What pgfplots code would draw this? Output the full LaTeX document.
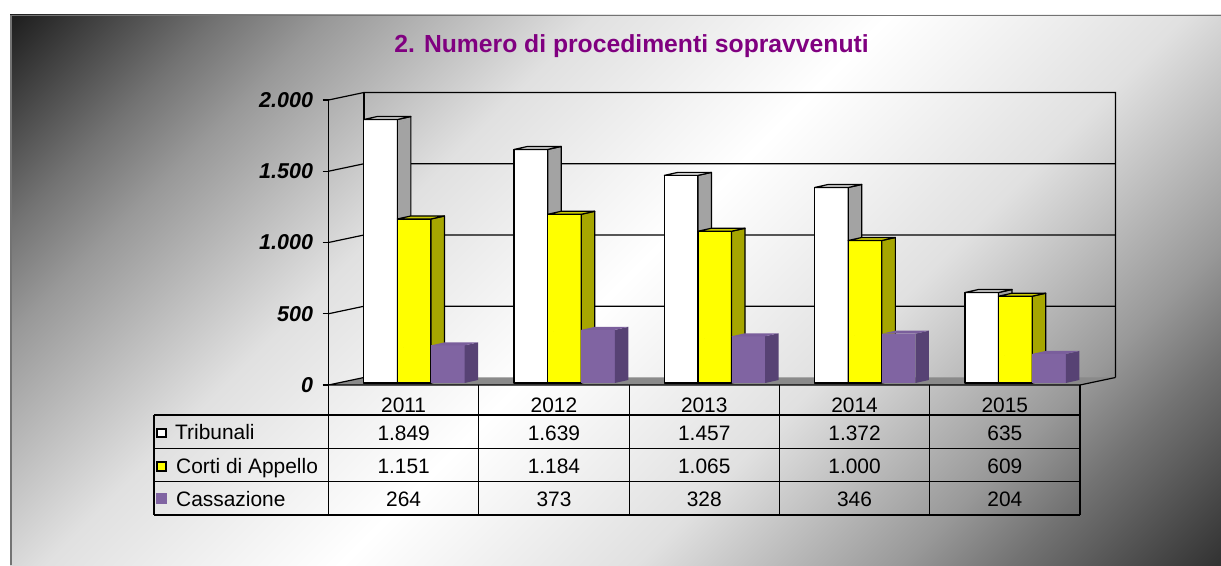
\documentclass[border=0pt]{standalone}
\usepackage{fontspec}
\setmainfont{Liberation Sans}
\usepackage{pgfplots}
\pgfplotsset{compat=1.18}
\usepackage{pgfplotstable}

\definecolor{titlepurple}{HTML}{800080}
\definecolor{tribside}{HTML}{A3A3A3}
\definecolor{tribtop}{HTML}{CFCFCF}
\definecolor{cortiface}{HTML}{FFFF00}
\definecolor{cortiside}{HTML}{A6A600}
\definecolor{cortitop}{HTML}{CCCC00}
\definecolor{cassface}{HTML}{8064A2}
\definecolor{cassside}{HTML}{574274}
\definecolor{casstop}{HTML}{7A5E9C}
\definecolor{floorgray}{HTML}{8A8A8A}

\pgfdeclareverticalshading{bgshade}{100bp}{%
  color(0bp)=(black!80); color(14.64bp)=(black!80); color(23bp)=(black!55);
  color(27.4bp)=(black!40); color(38bp)=(black!12); color(50bp)=(white);
  color(62bp)=(black!12); color(72.6bp)=(black!40); color(77bp)=(black!55);
  color(85.36bp)=(black!88); color(100bp)=(black!88)}

\pgfplotstableread{
x   trib corti cass
0.5 1849 1151 264
1.5 1639 1184 373
2.5 1457 1065 328
3.5 1372 1000 346
4.5 635  609  204
}\data

% #1 centre shift, #2 front, #3 side, #4 top, #5 outline
\newcommand\drawbar[5]{%
  \pgfmathsetmacro\xa{#1+10.5-16.8}%
  \pgfmathsetmacro\xb{#1+10.5+16.8}%
  \pgfmathsetmacro\xc{\xb+13.5}%
  \pgfmathsetmacro\xd{\xa+13.5}%
  \pgfmathsetmacro\yb{2-\barh}%
  \pgfmathsetmacro\yc{\yb+3}%
  \filldraw[fill=#2,draw=#5,line width=1.2pt,line join=round] (\xa pt,\yb pt) rectangle (\xb pt,2pt);
  \filldraw[fill=#3,draw=#5,line width=1.2pt,line join=round] (\xb pt,\yb pt) -- (\xc pt,\yc pt) -- (\xc pt,5pt) -- (\xb pt,2pt) -- cycle;
  \filldraw[fill=#4,draw=#5,line width=1.2pt,line join=round] (\xa pt,2pt) -- (\xd pt,5pt) -- (\xc pt,5pt) -- (\xb pt,2pt) -- cycle;
}

\newcommand\tabfont{\fontsize{20.9}{24}\selectfont}

\begin{document}
\begin{tikzpicture}[x=1pt,y=1pt]
\useasboundingbox (0,0) rectangle (1221,565);
\fill[white] (0,0) rectangle (1221,565);
\shade[shading=bgshade, shading angle=45] (10,0) rectangle (1221,550);
\draw[black!55, line width=1.5pt] (10.75,0) -- (10.75,549.25) -- (1221,549.25);

\node[anchor=base, font=\fontsize{24.7}{29}\selectfont\bfseries, text=titlepurple, inner sep=0pt] at (631.5,512.7) {2. Numero di procedimenti sopravvenuti};

\begin{axis}[
  at={(328.5pt,180pt)}, anchor=south west,
  scale only axis, width=751.5pt, height=285pt,
  xmin=0, xmax=5, ymin=0, ymax=2000, clip=false,
  axis x line*=bottom, axis y line*=left,
  x axis line style={draw=none},
  y axis line style={line width=1.3pt, black},
  xtick={0.5,1.5,2.5,3.5,4.5}, xticklabels={2011,2012,2013,2014,2015},
  xtick style={draw=none},
  xticklabel style={anchor=base, yshift=-21.5pt, font=\tabfont},
  ytick={0,500,1000,1500,2000},
  ytick style={line width=1.3pt, black},
  tick align=outside, major tick length=6pt,
  yticklabel style={font=\fontsize{21.5}{25}\selectfont\bfseries\itshape, xshift=-6pt},
  scaled y ticks=false,
  /pgf/number format/.cd, fixed, precision=0, set thousands separator={.}, assume math mode=true,
]
% floor
\fill[floorgray] (axis cs:0,0) -- (axis cs:5,0) -- ([shift={(35.5pt,7.5pt)}]axis cs:5,0) -- ([shift={(35.5pt,7.5pt)}]axis cs:0,0) -- cycle;
\draw[line width=1.2pt] ([shift={(35.5pt,7.5pt)}]axis cs:0,0) -- (axis cs:0,0) -- (axis cs:5,0) -- ([shift={(35.5pt,7.5pt)}]axis cs:5,0);
% walls and grid
\draw[line width=1.2pt] (axis cs:0,500) -- ([shift={(35.5pt,7.5pt)}]axis cs:0,500) -- ([shift={(35.5pt,7.5pt)}]axis cs:5,500);
\draw[line width=1.2pt] (axis cs:0,1000) -- ([shift={(35.5pt,7.5pt)}]axis cs:0,1000) -- ([shift={(35.5pt,7.5pt)}]axis cs:5,1000);
\draw[line width=1.2pt] (axis cs:0,1500) -- ([shift={(35.5pt,7.5pt)}]axis cs:0,1500) -- ([shift={(35.5pt,7.5pt)}]axis cs:5,1500);
\draw[line width=1.2pt] (axis cs:0,2000) -- ([shift={(35.5pt,7.5pt)}]axis cs:0,2000) -- ([shift={(35.5pt,7.5pt)}]axis cs:5,2000) -- ([shift={(35.5pt,7.5pt)}]axis cs:5,0);
\draw[line width=1.2pt] ([shift={(35.5pt,7.5pt)}]axis cs:0,0) -- ([shift={(35.5pt,7.5pt)}]axis cs:0,2000);

% bars
\addplot[scatter, only marks, mark=*, mark size=0pt, mark options={draw=none,fill=none},
  visualization depends on={\thisrow{trib} \as \val},
  scatter/@pre marker code/.code={\pgfmathsetmacro\barh{\val*0.1425}\drawbar{-33.6}{white}{tribside}{tribtop}{black}},
  scatter/@post marker code/.code={}]
  table[x=x,y=trib]{\data};
\addplot[scatter, only marks, mark=*, mark size=0pt, mark options={draw=none,fill=none},
  visualization depends on={\thisrow{corti} \as \val},
  scatter/@pre marker code/.code={\pgfmathsetmacro\barh{\val*0.1425}\drawbar{0}{cortiface}{cortiside}{cortitop}{black}},
  scatter/@post marker code/.code={}]
  table[x=x,y=corti]{\data};
\addplot[scatter, only marks, mark=*, mark size=0pt, mark options={draw=none,fill=none},
  visualization depends on={\thisrow{cass} \as \val},
  scatter/@pre marker code/.code={\pgfmathsetmacro\barh{\val*0.1425}\drawbar{33.6}{cassface}{cassside}{casstop}{none}},
  scatter/@post marker code/.code={}]
  table[x=x,y=cass]{\data};

% table values
\addplot[draw=none, mark=none, point meta=explicit, nodes near coords,
  nodes near coords style={anchor=base, font=\tabfont, text=black, inner sep=0pt}]
  table[x=x, y expr=-386, meta=trib]{\data};
\addplot[draw=none, mark=none, point meta=explicit, nodes near coords,
  nodes near coords style={anchor=base, font=\tabfont, text=black, inner sep=0pt}]
  table[x=x, y expr=-619.6, meta=corti]{\data};
\addplot[draw=none, mark=none, point meta=explicit, nodes near coords,
  nodes near coords style={anchor=base, font=\tabfont, text=black, inner sep=0pt}]
  table[x=x, y expr=-854, meta=cass]{\data};
\end{axis}

% data table grid
\begin{scope}[line width=1.2pt, black]
\draw (154,150) -- (1080,150);
\draw (154,116.7) -- (1080,116.7);
\draw (154,83.3) -- (1080,83.3);
\draw (154,50) -- (1080,50);
\draw (154,150) -- (154,50);
\draw (328.5,180) -- (328.5,50);
\draw (478.8,180) -- (478.8,50);
\draw (629.1,180) -- (629.1,50);
\draw (779.4,180) -- (779.4,50);
\draw (929.7,180) -- (929.7,50);
\draw (1080,180) -- (1080,50);
\end{scope}
% legend keys and row names
\filldraw[fill=white, draw=black, line width=2pt] (157,127.5) rectangle (165.5,136);
\filldraw[fill=cortiface, draw=black, line width=2pt] (157,94.2) rectangle (165.5,102.7);
\fill[cassface] (156,61) rectangle (166.5,71.5);
\node[anchor=base west, font=\tabfont, inner sep=0pt] at (175,125) {Tribunali};
\node[anchor=base west, font=\tabfont, inner sep=0pt] at (176,91.7) {Corti di Appello};
\node[anchor=base west, font=\tabfont, inner sep=0pt] at (176,58.3) {Cassazione};
\end{tikzpicture}
\end{document}
